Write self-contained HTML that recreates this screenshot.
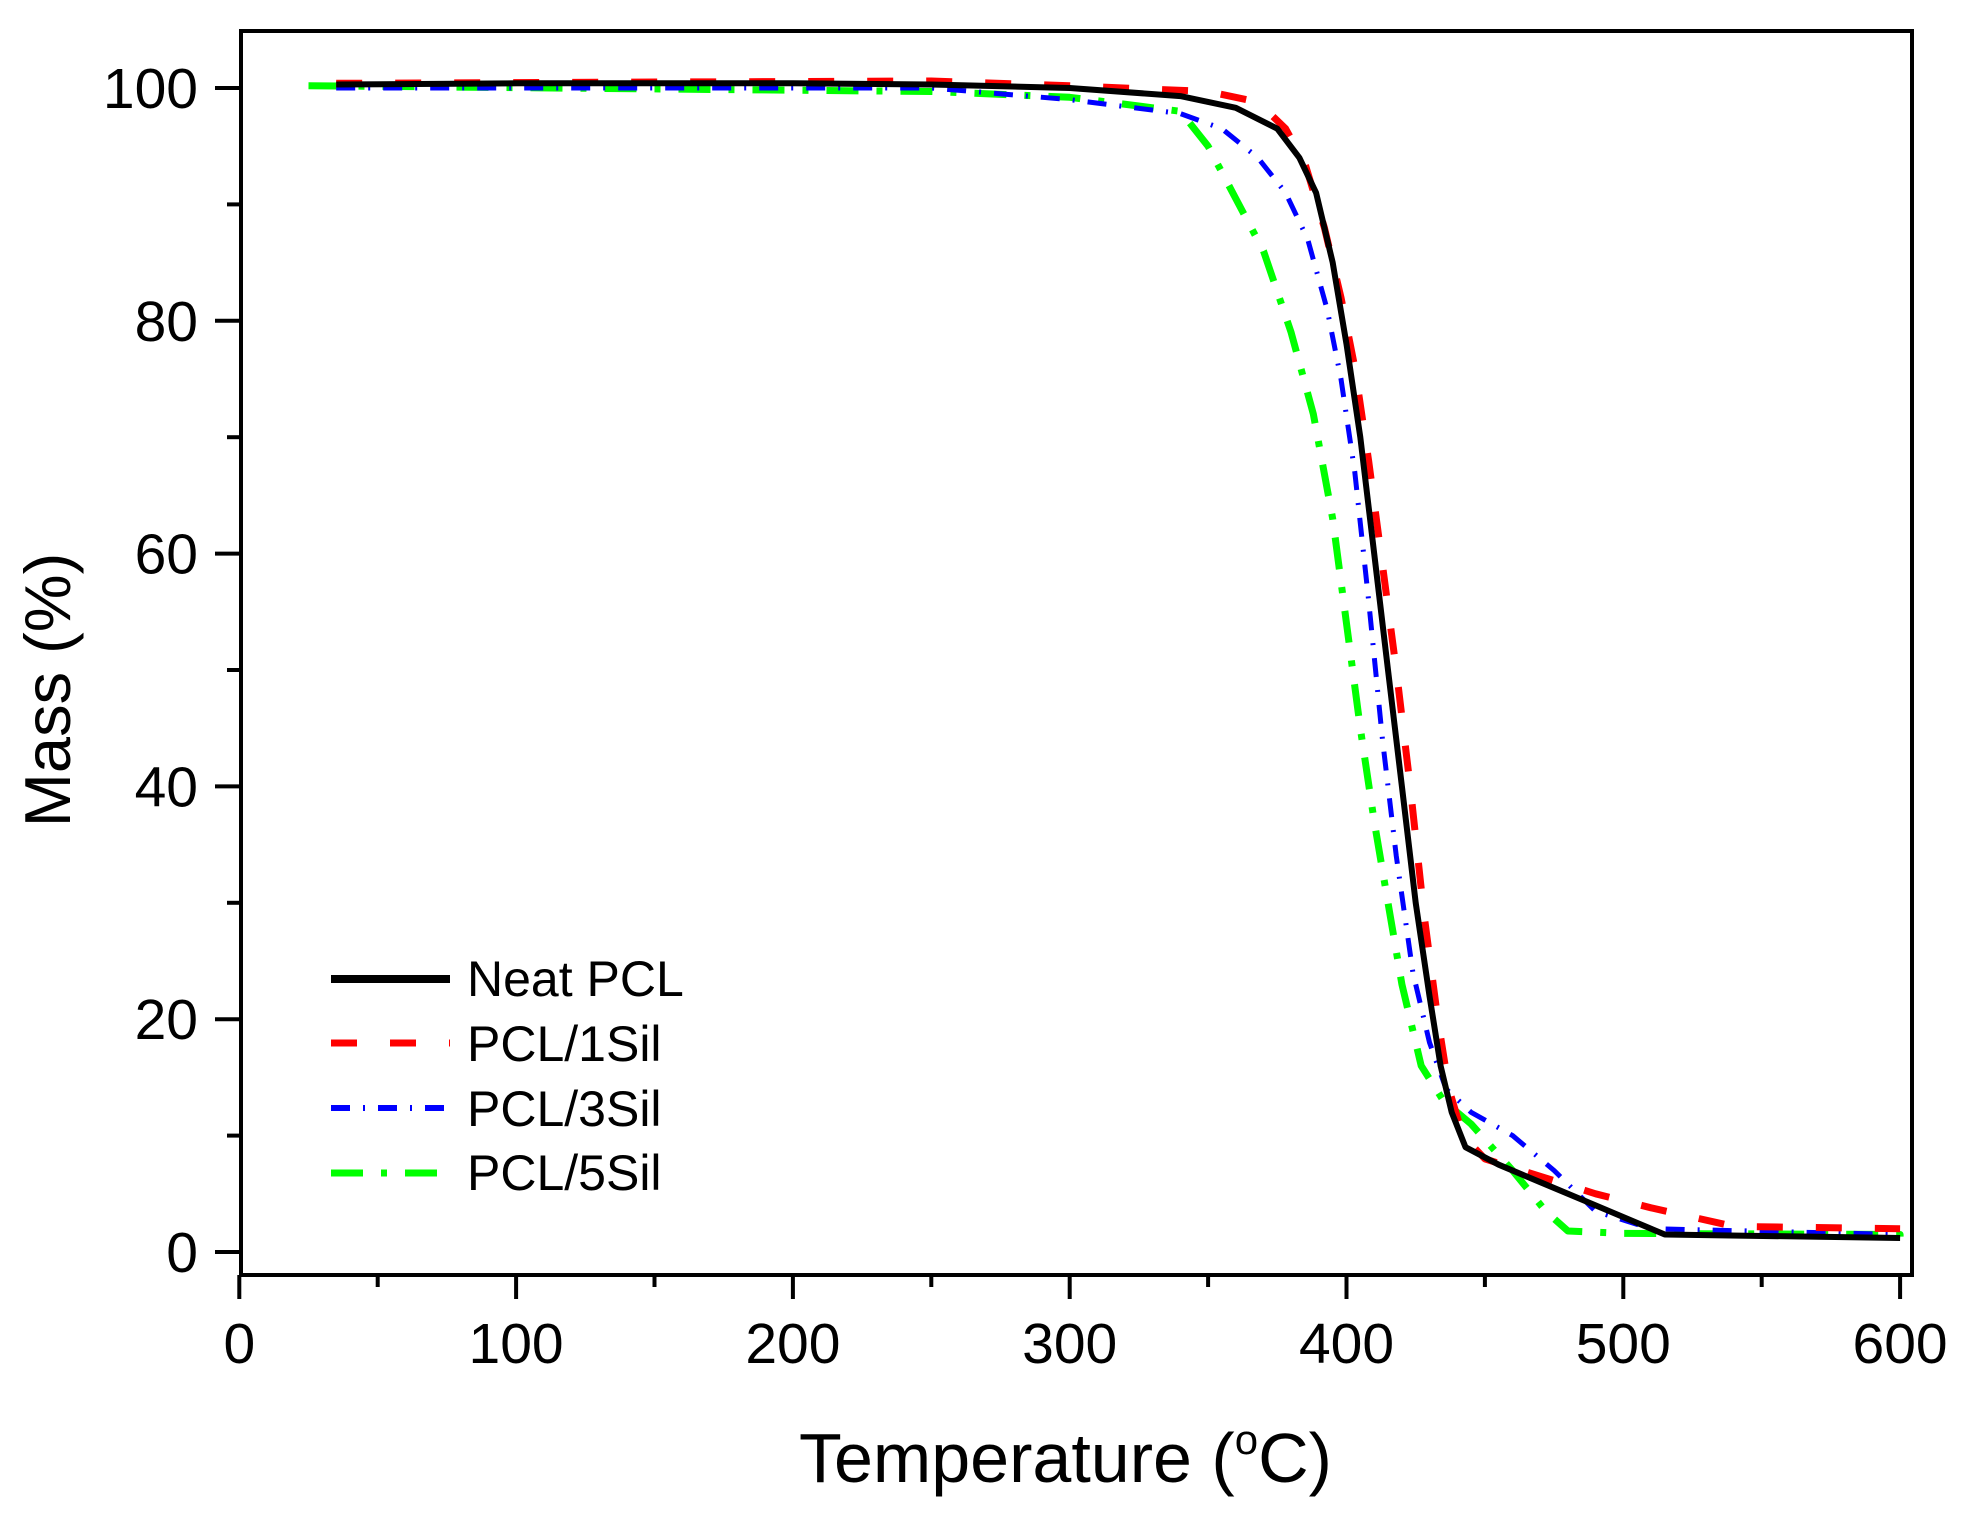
<!DOCTYPE html>
<html><head><meta charset="utf-8"><style>
html,body{margin:0;padding:0;background:#fff;}
svg{display:block;font-family:"Liberation Sans",Arial,sans-serif;}
</style></head><body>
<svg id="s" width="1971" height="1513" viewBox="0 0 1971 1513" xmlns="http://www.w3.org/2000/svg">
<defs><clipPath id="c"><rect x="241" y="33" width="1671" height="1240"/></clipPath></defs>
<g id="curves" clip-path="url(#c)" fill="none" stroke-linejoin="round"></g>
<rect x="241" y="31" width="1671" height="1244" fill="none" stroke="#000" stroke-width="4"/>
<g id="ticks" stroke="#000" stroke-width="4"></g>
<g id="labels" font-size="57" fill="#000"></g>
<text x="799" y="1482" font-size="70">Temperature (<tspan font-size="42" dy="-28">o</tspan><tspan dy="28">C)</tspan></text>
<text transform="translate(70,690) rotate(-90)" text-anchor="middle" font-size="65">Mass (%)</text>
<g font-size="50">
<line x1="331" y1="979" x2="450" y2="979" stroke="#000" stroke-width="8"/>
<text x="467" y="996">Neat PCL</text>
<line x1="331" y1="1043" x2="450" y2="1043" stroke="#f00" stroke-width="7" stroke-dasharray="26 33"/>
<text x="467" y="1061">PCL/1Sil</text>
<line x1="331" y1="1108" x2="450" y2="1108" stroke="#00f" stroke-width="6" stroke-dasharray="19 13 2 13"/>
<text x="467" y="1126">PCL/3Sil</text>
<line x1="331" y1="1173" x2="450" y2="1173" stroke="#0f0" stroke-width="7" stroke-dasharray="32 18 6 18"/>
<text x="467" y="1190">PCL/5Sil</text>
</g>
</svg>
<script>
const X=t=>239.3+t*2.768, Y=m=>1252-m*11.64;
const NS="http://www.w3.org/2000/svg";
function el(p,n,a){const e=document.createElementNS(NS,n);for(const k in a)e.setAttribute(k,a[k]);p.appendChild(e);return e;}
const tk=document.getElementById('ticks'), lb=document.getElementById('labels');
for(let t=0;t<=600;t+=50){const maj=t%100==0;el(tk,'line',{x1:X(t),x2:X(t),y1:1275,y2:maj?1299:1287});
 if(maj){const e=el(lb,'text',{x:X(t),y:1363,'text-anchor':'middle'});e.textContent=t;}}
for(let m=0;m<=100;m+=10){const maj=m%20==0;el(tk,'line',{x1:239,x2:maj?215:227,y1:Y(m),y2:Y(m)});
 if(maj){const e=el(lb,'text',{x:198,y:Y(m)+20,'text-anchor':'end'});e.textContent=m;}}
const cv=document.getElementById('curves');
function path(pts,attrs){let d='';pts.forEach((p,i)=>{d+=(i?'L':'M')+X(p[0]).toFixed(1)+','+Y(p[1]).toFixed(1)});attrs.d=d;el(cv,'path',attrs);}
path([[25,100.2],[250,99.7],[300,99.2],[340,98],[350,95],[360,90.5],[370,86],[380,79],[388,72],[395,63],[400,54],[405,45],[410,37],[415,30],[420,23],[427,16],[435,13],[445,11],[460,7],[472,3.5],[480,1.8],[500,1.6],[600,1.5],[600,0.3]],
 {stroke:'#0f0','stroke-width':7,'stroke-dasharray':'32 18 6 18'});
path([[35,100],[250,100],[300,99],[340,97.8],[355,96.5],[368,94],[378,91],[386,87],[393,81],[398,75],[403,67],[408,56],[413,44],[418,34],[424,24],[430,18],[436,14],[445,12],[460,10],[475,7],[490,3.5],[510,2],[600,1.5]],
 {stroke:'#00f','stroke-width':5,'stroke-dasharray':'19 13 2 13'});
path([[35,100.4],[250,100.6],[300,100.2],[350,99.7],[368,98.8],[378,96.5],[385,93.5],[392,88],[398,82],[403,76],[408,68],[413,59],[418,50],[423,40],[428,29],[433,20],[437,14],[442,10],[450,8],[470,6.5],[490,5],[510,3.8],[540,2.2],[600,2]],
 {stroke:'#f00','stroke-width':7,'stroke-dasharray':'26 33'});
path([[35,100.3],[100,100.4],[200,100.4],[250,100.3],[300,100],[340,99.3],[360,98.3],[375,96.5],[383,94],[389,91],[395,85],[400,78],[405,70],[410,60],[415,50],[420,40],[425,30],[430,22],[434,16],[438,12],[443,9],[455,7.5],[470,6],[490,4],[505,2.5],[515,1.5],[600,1.2]],
 {stroke:'#000','stroke-width':6});
</script>
</body></html>
